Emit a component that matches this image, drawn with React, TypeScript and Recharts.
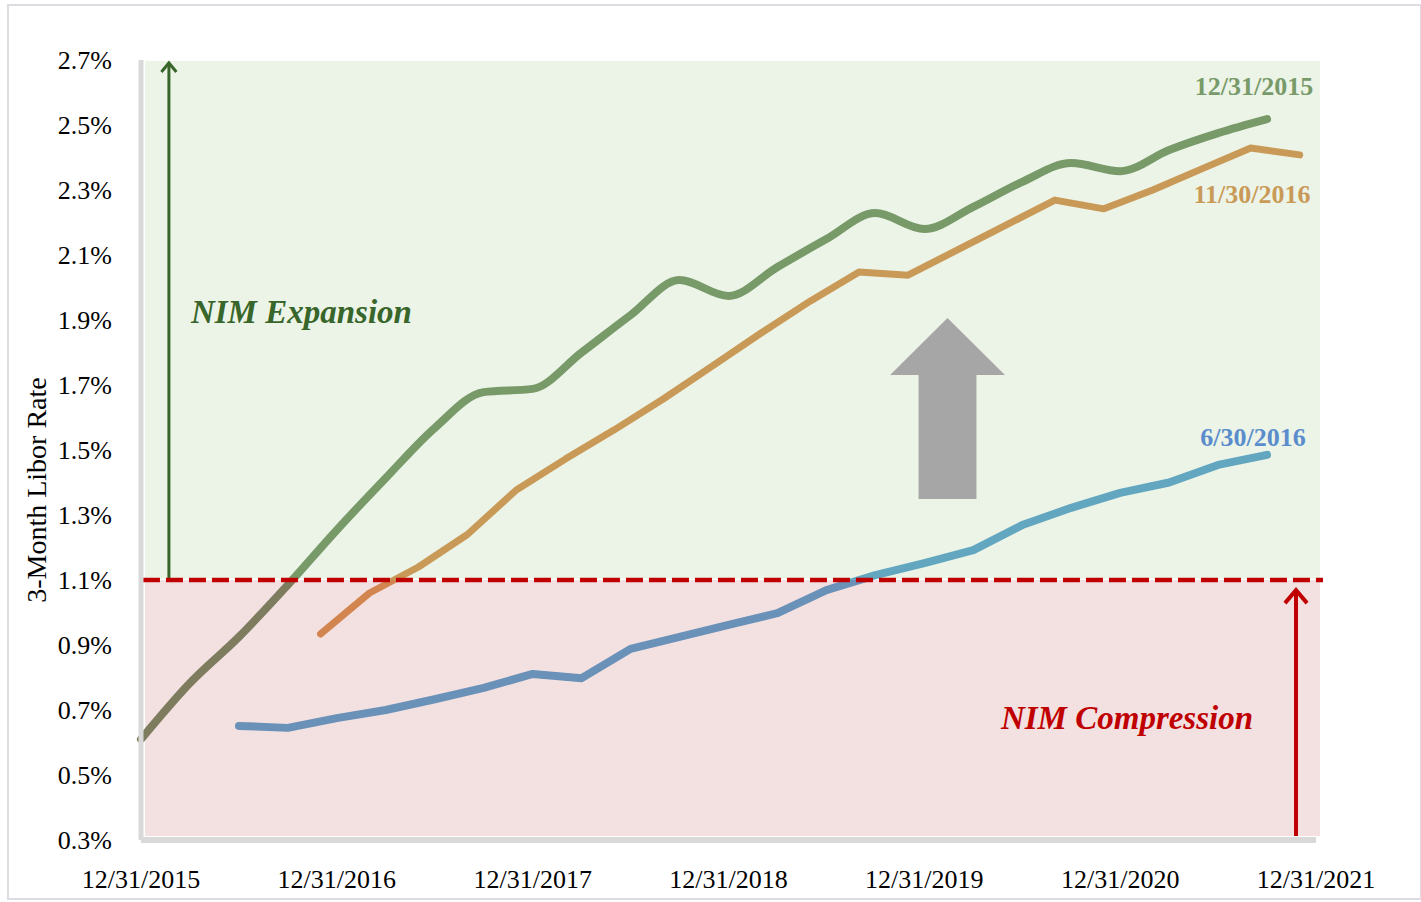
import React from 'react';
import { LineChart, Line, XAxis, YAxis, ReferenceArea, ReferenceLine, ReferenceDot } from 'recharts';

// x values are months after 12/31/2015
const xTickMonths = [0, 12, 24, 36, 48, 60, 72];
const xTickLabels = ['12/31/2015', '12/31/2016', '12/31/2017', '12/31/2018', '12/31/2019', '12/31/2020', '12/31/2021'];
const yTicks = [0.3, 0.5, 0.7, 0.9, 1.1, 1.3, 1.5, 1.7, 1.9, 2.1, 2.3, 2.5, 2.7];

// forward curve as of 12/31/2015
const months1215 = [0, 3, 6, 9, 12, 15, 18, 21, 24, 27, 30, 33, 36, 39, 42, 45, 48, 51, 54, 57, 60, 63, 66, 69];
const rates1215 = [0.61, 0.783, 0.925, 1.085, 1.254, 1.414, 1.568, 1.678, 1.688, 1.8, 1.915, 2.023, 1.974, 2.063, 2.149, 2.229, 2.18, 2.248, 2.325, 2.383, 2.358, 2.423, 2.475, 2.518];

// forward curve as of 11/30/2016
const months1116 = [11, 14, 17, 20, 23, 26, 29, 32, 35, 38, 41, 44, 47, 50, 53, 56, 59, 62, 65, 68, 71];
const rates1116 = [0.934, 1.06, 1.14, 1.24, 1.377, 1.472, 1.562, 1.657, 1.758, 1.86, 1.958, 2.048, 2.038, 2.115, 2.192, 2.269, 2.242, 2.3, 2.365, 2.429, 2.408];

// forward curve as of 6/30/2016
const months0616 = [6, 9, 12, 15, 18, 21, 24, 27, 30, 33, 36, 39, 42, 45, 48, 51, 54, 57, 60, 63, 66, 69];
const rates0616 = [0.651, 0.645, 0.675, 0.7, 0.733, 0.768, 0.811, 0.798, 0.888, 0.925, 0.962, 0.998, 1.069, 1.115, 1.152, 1.192, 1.269, 1.322, 1.368, 1.4, 1.454, 1.485];

const breakEven = 1.1;

const toPoints = (months: number[], rates: number[]) => months.map((m, i) => ({ m, rate: rates[i] }));

const FONT = '"Liberation Serif", "Times New Roman", serif';
const WIDTH = 1421;
const HEIGHT = 902;
const MARGIN = { top: 60, right: 105, bottom: 0, left: 0 };
const X_AXIS_H = 62;
const PLOT_TOP = MARGIN.top;
const PLOT_BOTTOM = HEIGHT - MARGIN.bottom - X_AXIS_H;
const split = (yTicks[yTicks.length - 1] - breakEven) / (yTicks[yTicks.length - 1] - yTicks[0]);

const gradients = [
  { id: 'g1215', above: '#789a69', below: '#7e7c5f' },
  { id: 'g1116', above: '#c99a57', below: '#d3854f' },
  { id: 'g0616', above: '#62a6c0', below: '#6a91b8' },
];

const BlockArrow = ({ x, y, width, height }: any) => {
  const cx = x + width / 2;
  const headH = height * 0.315;
  const half = width * 0.252;
  const pts = [
    [cx, y], [x + width, y + headH], [cx + half, y + headH], [cx + half, y + height],
    [cx - half, y + height], [cx - half, y + headH], [x, y + headH],
  ];
  return <polygon points={pts.map((p) => p.join(',')).join(' ')} fill="#a6a6a6" />;
};

const thinArrow = (color: string, head: number, sw: number) => ({ x, y, width, height }: any) => {
  const cx = x + width / 2;
  return (
    <g>
      <line x1={cx} y1={y + height} x2={cx} y2={y + 1} stroke={color} strokeWidth={sw} />
      <polyline
        points={`${x},${y + head} ${cx},${y + 1} ${x + width},${y + head}`}
        fill="none"
        stroke={color}
        strokeWidth={sw}
      />
    </g>
  );
};

const textShape = (text: string, color: string, size: number, italic = false) => ({ cx, cy }: any) => (
  <text
    x={cx}
    y={cy}
    textAnchor="middle"
    dominantBaseline="central"
    fill={color}
    fontFamily={FONT}
    fontSize={size}
    fontWeight="bold"
    fontStyle={italic ? 'italic' : 'normal'}
  >
    {text}
  </text>
);

const YTitle = (props: any) => {
  const vb = props.viewBox || { x: 0, y: 60, width: 141, height: 780 };
  const x = vb.x + 36;
  const y = vb.y + vb.height / 2 + 40;
  return (
    <text
      x={x}
      y={y}
      transform={`rotate(-90 ${x} ${y})`}
      textAnchor="middle"
      dominantBaseline="central"
      fill="#000"
      fontFamily={FONT}
      fontSize={28}
    >
      3-Month Libor Rate
    </text>
  );
};

export default function App() {
  return (
    <div style={{ position: 'absolute', left: 0, top: 0, width: WIDTH, height: HEIGHT, background: '#fff' }}>
      <div
        style={{
          position: 'absolute', left: 7, top: 4, width: 1411, height: 892,
          border: '2px solid #dedbe3', pointerEvents: 'none',
        }}
      />
      <LineChart width={WIDTH} height={HEIGHT} margin={MARGIN}>
        <defs>
          {gradients.map((g) => (
            <linearGradient key={g.id} id={g.id} gradientUnits="userSpaceOnUse" x1={0} y1={PLOT_TOP} x2={0} y2={PLOT_BOTTOM}>
              <stop offset={split} stopColor={g.above} />
              <stop offset={split} stopColor={g.below} />
            </linearGradient>
          ))}
        </defs>
        <XAxis
          type="number"
          dataKey="m"
          domain={[0, 72]}
          ticks={xTickMonths}
          interval={0}
          tickFormatter={(v: number) => xTickLabels[xTickMonths.indexOf(v)]}
          height={X_AXIS_H}
          tickLine={false}
          tickSize={0}
          tickMargin={30}
          axisLine={{ stroke: '#d9d9d9', strokeWidth: 6 }}
          tick={{ fill: '#000', fontSize: 26, fontFamily: FONT }}
        />
        <YAxis
          type="number"
          domain={[0.3, 2.7]}
          ticks={yTicks}
          interval={0}
          tickFormatter={(v: number) => `${v.toFixed(1)}%`}
          width={141}
          tickLine={false}
          tickSize={0}
          tickMargin={29}
          axisLine={{ stroke: '#d9d9d9', strokeWidth: 5 }}
          tick={{ fill: '#000', fontSize: 26, fontFamily: FONT }}
          label={YTitle}
        />
        <ReferenceArea x1={0.25} x2={72.24} y1={1.104} y2={2.697} fill="#ecf4e8" fillOpacity={1} stroke="none" ifOverflow="visible" />
        <ReferenceArea x1={0.25} x2={72.24} y1={0.312} y2={breakEven} fill="#f3e0e1" fillOpacity={1} stroke="none" ifOverflow="visible" />
        <ReferenceArea x1={45.9} x2={52.94} y1={1.349} y2={1.906} shape={BlockArrow} ifOverflow="visible" />
        <ReferenceArea x1={1.25} x2={2.17} y1={breakEven} y2={2.694} shape={thinArrow('#38662a', 10, 3)} ifOverflow="visible" />
        <ReferenceArea x1={70.1} x2={71.45} y1={0.312} y2={1.072} shape={thinArrow('#c00000', 14, 4)} ifOverflow="visible" />

        <Line data={toPoints(months0616, rates0616)} dataKey="rate" type="linear" stroke="url(#g0616)" strokeWidth={8} strokeLinecap="round" strokeLinejoin="round" dot={false} activeDot={false} isAnimationActive={false} />
        <Line data={toPoints(months1116, rates1116)} dataKey="rate" type="linear" stroke="url(#g1116)" strokeWidth={7} strokeLinecap="round" strokeLinejoin="round" dot={false} activeDot={false} isAnimationActive={false} />
        <Line data={toPoints(months1215, rates1215)} dataKey="rate" type="monotone" stroke="url(#g1215)" strokeWidth={8} strokeLinecap="round" strokeLinejoin="round" dot={false} activeDot={false} isAnimationActive={false} />

        <ReferenceLine
          segment={[{ x: 0.12, y: breakEven }, { x: 72.43, y: breakEven }]}
          stroke="#c00000"
          strokeWidth={4.5}
          strokeDasharray="17 6"
          ifOverflow="visible"
        />

        <ReferenceDot x={68.2} y={2.62} r={0} shape={textShape('12/31/2015', '#789a69', 26)} ifOverflow="visible" />
        <ReferenceDot x={68.08} y={2.285} r={0} shape={textShape('11/30/2016', '#c99a57', 26)} ifOverflow="visible" />
        <ReferenceDot x={68.14} y={1.54} r={0} shape={textShape('6/30/2016', '#5b8dcc', 26)} ifOverflow="visible" />
        <ReferenceDot x={9.83} y={1.925} r={0} shape={textShape('NIM Expansion', '#38662a', 33, true)} ifOverflow="visible" />
        <ReferenceDot x={60.42} y={0.675} r={0} shape={textShape('NIM Compression', '#c00000', 33, true)} ifOverflow="visible" />
      </LineChart>
    </div>
  );
}
